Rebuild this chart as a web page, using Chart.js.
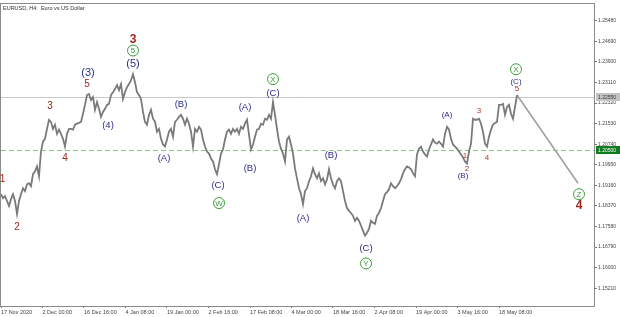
<!DOCTYPE html>
<html>
<head>
<meta charset="utf-8">
<script src="https://cdn.jsdelivr.net/npm/chart.js@4/dist/chart.umd.min.js"></script>
<style>
  html, body { margin: 0; padding: 0; background: #fff; }
  canvas { display: block; }
</style>
</head>
<body>
<canvas id="grafico" width="620" height="317"></canvas>
<script>
const titulo = "EURUSD, H4:  Euro vs US Dollar";

const etiquetasX = ["17 Nov 2020", "2 Dec 00:00", "16 Dec 16:00", "4 Jan 08:00", "19 Jan 00:00",
    "2 Feb 16:00", "17 Feb 08:00", "4 Mar 00:00", "18 Mar 16:00", "2 Apr 08:00",
    "19 Apr 00:00", "3 May 16:00", "18 May 08:00"];
const pasoEtiquetaX = 20.75; // muestras entre etiquetas de fecha

const valoresY = [1.25480, 1.24690, 1.23900, 1.23110, 1.22320, 1.21530, 1.20740,
    1.19950, 1.19160, 1.18370, 1.17580, 1.16790, 1.16000, 1.15210];

// precio muestreado a lo largo del grafico (aprox. cada 3 velas H4)
const precios = [
    1.1882, 1.1867, 1.1875, 1.1856, 1.1837, 1.1863, 1.1882, 1.1856, 1.1806, 1.1856,
    1.1882, 1.1905, 1.1894, 1.1920, 1.1924, 1.1913, 1.1959, 1.1970, 1.1989, 1.1951,
    1.2046, 1.2084, 1.2095, 1.2133, 1.2168, 1.2160, 1.2133, 1.2149, 1.2114, 1.2130,
    1.2114, 1.2095, 1.2065, 1.2114, 1.2133, 1.2133, 1.2130, 1.2149, 1.2153, 1.2156,
    1.2160, 1.2191, 1.2225, 1.2263, 1.2267, 1.2244, 1.2255, 1.2206, 1.2236, 1.2210,
    1.2179, 1.2198, 1.2210, 1.2225, 1.2229, 1.2263, 1.2274, 1.2286, 1.2301, 1.2282,
    1.2305, 1.2248, 1.2274, 1.2293, 1.2305, 1.2320, 1.2343, 1.2312, 1.2274, 1.2263,
    1.2248, 1.2198, 1.2160, 1.2149, 1.2187, 1.2206, 1.2172, 1.2160, 1.2122, 1.2133,
    1.2095, 1.2073, 1.2065, 1.2092, 1.2122, 1.2133, 1.2103, 1.2160, 1.2168, 1.2179,
    1.2187, 1.2172, 1.2149, 1.2172, 1.2153, 1.2122, 1.2065, 1.2133, 1.2122, 1.2141,
    1.2130, 1.2092, 1.2065, 1.2046, 1.2038, 1.2019, 1.2008, 1.1978, 1.1959, 1.1997,
    1.2038, 1.2054, 1.2092, 1.2122, 1.2130, 1.2114, 1.2133, 1.2122, 1.2133, 1.2114,
    1.2141, 1.2133, 1.2153, 1.2168, 1.2111, 1.2054, 1.2073, 1.2103, 1.2130, 1.2133,
    1.2153, 1.2149, 1.2172, 1.2168, 1.2187, 1.2172, 1.2236, 1.2187, 1.2133, 1.2084,
    1.2057, 1.2038, 1.2008, 1.2092, 1.2103, 1.2073, 1.2038, 1.1981, 1.1943, 1.1905,
    1.1882, 1.1844, 1.1894, 1.1905, 1.1932, 1.1951, 1.1981, 1.1959, 1.1943, 1.1962,
    1.1932, 1.1943, 1.1920, 1.1939, 1.1978, 1.1943, 1.1920, 1.1905, 1.1932, 1.1943,
    1.1932, 1.1894, 1.1856, 1.1829, 1.1818, 1.1810, 1.1799, 1.1780, 1.1791, 1.1780,
    1.1761, 1.1742, 1.1723, 1.1734, 1.1749, 1.1780, 1.1772, 1.1768, 1.1799, 1.1810,
    1.1829, 1.1856, 1.1882, 1.1890, 1.1901, 1.1924, 1.1913, 1.1905, 1.1913, 1.1924,
    1.1939, 1.1962, 1.1978, 1.1989, 1.1985, 1.1978, 1.1962, 1.1951, 1.2035, 1.2057,
    1.2065, 1.2046, 1.2035, 1.2027, 1.2054, 1.2073, 1.2092, 1.2080, 1.2076, 1.2084,
    1.2076, 1.2065, 1.2114, 1.2141, 1.2130, 1.2095, 1.2073, 1.2065, 1.2057, 1.2046,
    1.2035, 1.2023, 1.2008, 1.2000, 1.2046, 1.2076, 1.2172, 1.2168, 1.2168, 1.2172,
    1.2153, 1.2122, 1.2076, 1.2065, 1.2103, 1.2130, 1.2149, 1.2156, 1.2160, 1.2225,
    1.2225, 1.2229, 1.2187, 1.2217, 1.2225, 1.2191, 1.2172, 1.2217, 1.2263
];

// proyeccion de la onda (Z)
const proyeccionX = [258, 288.5];
const proyeccionY = [1.2263, 1.1924];

const precioActual = 1.2255;
const nivelClave = 1.2050;

// etiquetas de ondas: [texto, muestra, precio]
const ondasRojasGrandes = [["3", 66, 1.2476], ["4", 289, 1.1837]];
const ondasRojas = [["1", 0.8, 1.1939], ["2", 8, 1.1757], ["3", 24.5, 1.2221], ["4", 32, 1.2019], ["5", 43, 1.2305]];
const ondasRojasChicas = [["1", 232, 1.2031], ["2", 233, 1.1981], ["3", 239, 1.2202], ["4", 243, 1.2023], ["5", 258, 1.2286]];
const ondasAzulesGrandes = [["(3)", 43.5, 1.2346], ["(5)", 66, 1.2381]];
const ondasAzules = [["(4)", 53.5, 1.2145], ["(A)", 81.5, 1.2019], ["(B)", 90, 1.2229], ["(C)", 108.5, 1.1917],
    ["(A)", 122, 1.2217], ["(B)", 124.5, 1.1981], ["(C)", 136, 1.2270], ["(A)", 151, 1.1791],
    ["(B)", 165, 1.2031], ["(C)", 182.5, 1.1673]];
const ondasAzulesChicas = [["(A)", 223, 1.2187], ["(B)", 231, 1.1951], ["(C)", 257.5, 1.2312]];
const ondasVerdes = [["5", 66, 1.2434], ["X", 136, 1.2324], ["W", 109, 1.1848], ["Y", 182.5, 1.1616],
    ["X", 257.5, 1.2362], ["Z", 289, 1.1882]];

const FUENTE = "'Liberation Sans', Arial, sans-serif";

// Dibuja marco, niveles, titulo y etiquetas de ondas
const pluginOndas = {
    id: "ondas",
    beforeDatasetsDraw(chart) {
        const { ctx, chartArea: a, scales: { y } } = chart;
        ctx.save();
        const yAct = Math.round(y.getPixelForValue(precioActual)) + 0.5;
        ctx.strokeStyle = "#c8c8c8";
        ctx.lineWidth = 1;
        ctx.beginPath(); ctx.moveTo(a.left, yAct); ctx.lineTo(a.right, yAct); ctx.stroke();

        const yClave = Math.round(y.getPixelForValue(nivelClave)) + 0.5;
        ctx.strokeStyle = "#86c986";
        ctx.setLineDash([5, 3]);
        ctx.beginPath(); ctx.moveTo(a.left, yClave); ctx.lineTo(a.right, yClave); ctx.stroke();
        ctx.setLineDash([]);

        ctx.fillStyle = "#333";
        ctx.font = "5.5px " + FUENTE;
        ctx.textBaseline = "top";
        ctx.fillText(titulo, a.left + 2, a.top + 2);
        ctx.restore();
    },
    afterDatasetsDraw(chart) {
        const { ctx, chartArea: a, scales: { x, y } } = chart;
        ctx.save();
        ctx.strokeStyle = "#8a8a8a";
        ctx.lineWidth = 1;
        ctx.strokeRect(a.left - 0.5, a.top - 0.5, a.right - a.left + 1, a.bottom - a.top + 1);

        ctx.textAlign = "center";
        ctx.textBaseline = "middle";
        const texto = (lista, color, fuente) => {
            ctx.fillStyle = color;
            ctx.font = fuente;
            lista.forEach(([t, i, p]) => ctx.fillText(t, x.getPixelForValue(i), y.getPixelForValue(p)));
        };
        texto(ondasRojasGrandes, "#a3241c", "bold 12px " + FUENTE);
        texto(ondasRojas, "#a3241c", "10px " + FUENTE);
        texto(ondasRojasChicas, "#b8302a", "8px " + FUENTE);
        texto(ondasAzulesGrandes, "#2c2c8c", "11px " + FUENTE);
        texto(ondasAzules, "#2c2c8c", "9.5px " + FUENTE);
        texto(ondasAzulesChicas, "#2c2c8c", "8px " + FUENTE);

        ondasVerdes.forEach(([t, i, p]) => {
            const cx = x.getPixelForValue(i), cy = y.getPixelForValue(p);
            ctx.strokeStyle = "#3a9e3a";
            ctx.lineWidth = 1;
            ctx.beginPath(); ctx.arc(cx, cy, 5.5, 0, Math.PI * 2); ctx.stroke();
            ctx.fillStyle = "#3a9e3a";
            ctx.font = "8px " + FUENTE;
            ctx.fillText(t, cx, cy + 0.5);
        });

        // cajas de precio en el eje derecho
        const caja = (valor, fondo, color) => {
            const py = Math.round(y.getPixelForValue(valor));
            ctx.fillStyle = fondo;
            ctx.fillRect(a.right + 2, py - 4, 24, 8);
            ctx.fillStyle = color;
            ctx.font = "5px " + FUENTE;
            ctx.textAlign = "left";
            ctx.fillText(valor.toFixed(5), a.right + 4, py + 0.5);
        };
        caja(precioActual, "#c4c4c4", "#333");
        caja(nivelClave, "#0f7a1e", "#fff");
        ctx.restore();
    },
};

new Chart(document.getElementById("grafico"), {
    type: "line",
    data: {
        datasets: [
            {
                data: precios.map((p, i) => ({ x: i, y: p })),
                borderColor: "#7a7a7a", borderWidth: 1.8, pointRadius: 0, tension: 0,
            },
            {
                data: proyeccionX.map((v, i) => ({ x: v, y: proyeccionY[i] })),
                borderColor: "#a0a0a0", borderWidth: 1.6, pointRadius: 0,
            },
        ],
    },
    options: {
        responsive: false,
        animation: false,
        devicePixelRatio: 1,
        layout: { padding: { left: 1, top: 1, right: 0, bottom: 0 } },
        plugins: { legend: { display: false }, tooltip: { enabled: false } },
        scales: {
            x: {
                type: "linear", min: 0, max: 296.5,
                afterBuildTicks: s => { s.ticks = etiquetasX.map((_, k) => ({ value: k * pasoEtiquetaX })); },
                afterFit: s => { s.height = 11; },
                grid: { drawOnChartArea: false, tickLength: 2, color: "#777" },
                border: { display: false },
                ticks: {
                    autoSkip: false, maxRotation: 0, align: "start", padding: 1,
                    color: "#444", font: { size: 5.5, family: FUENTE },
                    callback: (v, i) => etiquetasX[i],
                },
            },
            y: {
                position: "right", min: 1.14526, max: 1.26127,
                afterBuildTicks: s => { s.ticks = valoresY.map(v => ({ value: v })); },
                afterFit: s => { s.width = 26; },
                grid: { drawOnChartArea: false, tickLength: 3, color: "#777" },
                border: { display: false },
                ticks: {
                    padding: 1, color: "#444", font: { size: 5, family: FUENTE },
                    callback: v => v.toFixed(5),
                },
            },
        },
    },
    plugins: [pluginOndas],
});
</script>
</body>
</html>
